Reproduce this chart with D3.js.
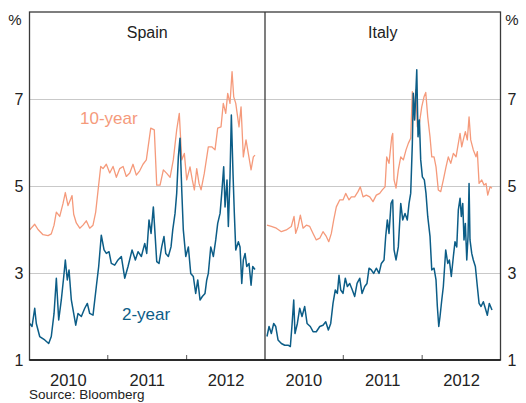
<!DOCTYPE html>
<html>
<head>
<meta charset="utf-8">
<script src="https://cdn.jsdelivr.net/npm/d3@7"></script>
<style>
  html, body { margin: 0; padding: 0; background: #fff; }
  svg { display: block; font-family: "Liberation Sans", Arial, sans-serif; }
</style>
</head>
<body>
<svg id="chart" width="526" height="403"></svg>
<script>
// ---- Data (decimal year, yield %) ----
const panels = ["Spain", "Italy"];
const yTicks = [1, 3, 5, 7];
const gridTicks = [3, 5, 7];
const yearBoundaries = [2011, 2012];
const yearLabels = [2010, 2011, 2012];
const seriesNames = ["10-year", "2-year"];

const spain10 = [
  [2010.016,3.99],[2010.080,4.12],[2010.122,4.0],[2010.185,3.88],[2010.249,3.86],[2010.290,3.9],
  [2010.325,4.1],[2010.354,4.4],[2010.397,4.3],[2010.439,4.6],[2010.468,4.85],[2010.502,4.55],
  [2010.536,4.7],[2010.553,4.78],[2010.574,4.35],[2010.607,4.15],[2010.651,4.03],[2010.692,4.1],
  [2010.734,4.2],[2010.777,4.03],[2010.819,4.1],[2010.853,4.4],[2010.883,4.9],[2010.917,5.45],
  [2010.946,5.4],[2010.988,5.5],[2011.031,5.3],[2011.073,5.45],[2011.115,5.2],[2011.158,5.4],
  [2011.200,5.45],[2011.241,5.22],[2011.285,5.3],[2011.326,5.5],[2011.368,5.25],[2011.411,5.35],
  [2011.453,5.5],[2011.495,5.6],[2011.551,6.33],[2011.596,6.29],[2011.627,5.02],[2011.669,5.02],
  [2011.711,5.37],[2011.754,5.29],[2011.796,5.2],[2011.837,5.6],[2011.880,6.29],[2011.913,6.67],
  [2011.944,5.6],[2011.977,5.75],[2012.007,5.14],[2012.049,5.44],[2012.078,5.14],[2012.104,4.91],
  [2012.134,5.4],[2012.163,5.06],[2012.189,4.91],[2012.230,5.29],[2012.281,5.9],[2012.324,5.9],
  [2012.366,5.83],[2012.400,6.33],[2012.442,6.36],[2012.471,6.9],[2012.502,6.67],[2012.527,7.13],
  [2012.556,6.9],[2012.582,7.63],[2012.603,7.05],[2012.629,6.9],[2012.670,6.36],[2012.696,6.82],
  [2012.725,5.67],[2012.759,6.06],[2012.788,5.75],[2012.823,5.37],[2012.852,5.67],[2012.873,5.71]
];
const spain2 = [
  [2010.016,1.84],[2010.046,1.77],[2010.080,2.19],[2010.100,1.84],[2010.143,1.54],[2010.207,1.46],
  [2010.257,1.38],[2010.290,1.54],[2010.325,2.07],[2010.354,2.88],[2010.384,1.92],[2010.417,2.38],
  [2010.448,2.92],[2010.468,3.3],[2010.493,2.84],[2010.515,3.07],[2010.544,2.38],[2010.574,2.07],
  [2010.600,1.8],[2010.629,2.07],[2010.671,2.0],[2010.714,2.19],[2010.747,2.3],[2010.777,2.07],
  [2010.819,2.03],[2010.861,2.69],[2010.891,3.15],[2010.924,3.87],[2010.959,3.53],[2010.988,3.45],
  [2011.022,3.49],[2011.051,3.22],[2011.094,3.18],[2011.136,3.3],[2011.178,3.38],[2011.221,2.88],
  [2011.263,3.15],[2011.314,3.53],[2011.356,3.3],[2011.390,3.49],[2011.432,3.38],[2011.475,3.68],
  [2011.500,3.45],[2011.529,4.22],[2011.555,3.91],[2011.584,4.52],[2011.605,3.91],[2011.627,3.26],
  [2011.656,3.22],[2011.690,3.6],[2011.719,3.84],[2011.741,3.45],[2011.774,3.38],[2011.808,3.6],
  [2011.830,3.99],[2011.859,4.37],[2011.880,4.83],[2011.901,5.67],[2011.922,6.1],[2011.944,4.91],
  [2011.964,3.99],[2011.995,3.38],[2012.028,3.6],[2012.058,2.99],[2012.091,2.92],[2012.121,2.53],
  [2012.147,2.84],[2012.176,2.38],[2012.205,2.46],[2012.239,2.53],[2012.261,2.84],[2012.281,2.99],
  [2012.312,3.6],[2012.345,3.38],[2012.375,3.76],[2012.400,4.14],[2012.430,4.37],[2012.451,4.83],
  [2012.476,5.44],[2012.493,4.52],[2012.518,5.14],[2012.535,4.07],[2012.556,5.21],[2012.573,6.63],
  [2012.594,5.29],[2012.611,4.37],[2012.629,3.53],[2012.662,3.72],[2012.683,3.6],[2012.705,2.76],
  [2012.725,3.3],[2012.747,3.45],[2012.768,3.15],[2012.797,3.22],[2012.823,2.72],[2012.844,3.15],
  [2012.873,3.08]
];
const italy10 = [
  [2010.039,4.1],[2010.094,4.07],[2010.157,4.03],[2010.221,3.95],[2010.284,3.99],[2010.347,4.07],
  [2010.382,4.3],[2010.403,3.91],[2010.432,4.07],[2010.462,4.33],[2010.496,4.03],[2010.538,4.1],
  [2010.581,4.07],[2010.623,3.91],[2010.664,3.76],[2010.708,3.8],[2010.749,3.95],[2010.791,3.84],
  [2010.822,3.72],[2010.855,3.91],[2010.885,4.22],[2010.918,4.52],[2010.961,4.68],[2011.003,4.68],
  [2011.037,4.83],[2011.079,4.68],[2011.108,4.75],[2011.151,4.75],[2011.193,4.87],[2011.222,4.98],
  [2011.257,4.75],[2011.298,4.79],[2011.342,4.75],[2011.383,4.64],[2011.425,4.79],[2011.468,4.83],
  [2011.501,4.91],[2011.536,4.98],[2011.557,5.67],[2011.586,5.52],[2011.621,6.13],[2011.633,6.21],
  [2011.650,5.14],[2011.675,4.95],[2011.704,5.37],[2011.735,5.67],[2011.768,5.6],[2011.802,5.83],
  [2011.831,5.98],[2011.861,6.1],[2011.882,7.17],[2011.903,6.52],[2011.925,7.21],[2011.945,6.36],
  [2011.971,6.44],[2012.001,6.82],[2012.030,7.05],[2012.052,7.15],[2012.077,6.59],[2012.106,6.13],
  [2012.128,5.67],[2012.157,5.67],[2012.182,5.44],[2012.211,4.91],[2012.242,4.87],[2012.275,5.14],
  [2012.309,5.44],[2012.338,5.67],[2012.369,5.52],[2012.402,5.75],[2012.436,5.67],[2012.465,5.98],
  [2012.487,6.21],[2012.508,5.9],[2012.528,6.06],[2012.554,6.25],[2012.579,6.06],[2012.601,6.59],
  [2012.622,6.06],[2012.655,5.83],[2012.689,5.67],[2012.706,5.79],[2012.728,5.06],[2012.762,5.14],
  [2012.791,5.02],[2012.816,5.06],[2012.838,4.79],[2012.867,4.98],[2012.892,4.95]
];
const italy2 = [
  [2010.039,1.54],[2010.065,1.77],[2010.094,1.61],[2010.124,1.84],[2010.150,1.77],[2010.179,1.46],
  [2010.221,1.38],[2010.264,1.34],[2010.306,1.34],[2010.335,1.31],[2010.356,1.8],[2010.378,2.38],
  [2010.394,1.61],[2010.424,1.84],[2010.454,2.19],[2010.483,2.0],[2010.517,2.23],[2010.547,1.84],
  [2010.588,1.77],[2010.623,1.65],[2010.664,1.65],[2010.708,1.77],[2010.749,1.8],[2010.784,1.88],
  [2010.817,1.69],[2010.847,1.84],[2010.876,2.3],[2010.905,2.61],[2010.931,2.53],[2010.952,2.95],
  [2010.974,2.61],[2011.003,2.53],[2011.032,2.88],[2011.058,2.69],[2011.088,2.76],[2011.121,2.61],
  [2011.151,2.46],[2011.181,2.76],[2011.215,2.88],[2011.244,2.53],[2011.278,2.69],[2011.307,2.76],
  [2011.333,3.11],[2011.362,3.07],[2011.392,2.99],[2011.425,3.11],[2011.460,2.99],[2011.489,3.22],
  [2011.523,3.3],[2011.544,3.84],[2011.565,4.22],[2011.586,3.91],[2011.612,4.6],[2011.633,4.68],
  [2011.650,3.53],[2011.675,3.3],[2011.704,3.6],[2011.735,4.6],[2011.760,4.22],[2011.789,4.37],
  [2011.818,4.22],[2011.840,4.6],[2011.861,4.83],[2011.882,5.98],[2011.894,7.13],[2011.912,6.52],
  [2011.938,7.67],[2011.954,6.13],[2011.971,6.52],[2011.988,5.6],[2012.009,5.21],[2012.034,5.14],
  [2012.055,4.83],[2012.077,4.3],[2012.106,3.84],[2012.128,3.07],[2012.157,3.11],[2012.182,2.84],
  [2012.199,2.23],[2012.217,1.77],[2012.233,2.0],[2012.255,2.38],[2012.275,2.69],[2012.305,3.53],
  [2012.331,3.22],[2012.351,3.3],[2012.376,2.92],[2012.402,3.38],[2012.423,3.72],[2012.445,3.6],
  [2012.465,4.45],[2012.487,4.72],[2012.503,4.3],[2012.521,4.6],[2012.537,3.76],[2012.554,4.14],
  [2012.572,3.3],[2012.588,3.84],[2012.601,5.06],[2012.613,3.76],[2012.635,3.45],[2012.655,3.3],
  [2012.681,3.15],[2012.706,2.69],[2012.728,2.3],[2012.753,2.23],[2012.782,2.34],[2012.807,2.19],
  [2012.833,2.03],[2012.858,2.3],[2012.892,2.15]
];

const panelData = { Spain: [spain10, spain2], Italy: [italy10, italy2] };

// ---- Layout ----
const svg = d3.select("#chart");
const plotTop = 12, plotBottom = 360;
const panelX = { Spain: [29.5, 265], Italy: [265, 500.5] };
const colors = { "10-year": "#f59a7b", "2-year": "#0c5d87" };
const xDomain = [2010.0137, 2012.9997];

const y = d3.scaleLinear().domain([1, 9]).range([plotBottom, plotTop]);

// gridlines across both panels
const grid = svg.append("g").attr("transform", "translate(29.5,0)")
  .call(d3.axisLeft(y).tickValues(gridTicks).tickSize(-(500.5 - 29.5)).tickFormat(""));
grid.select(".domain").remove();
grid.selectAll("line").attr("stroke", "#c9c9c9").attr("stroke-width", 1);

panels.forEach(p => {
  const [x0, x1] = panelX[p];
  const x = d3.scaleLinear().domain(xDomain).range([x0, x1]);

  // year boundary tick marks
  const tk = svg.append("g").attr("transform", `translate(0,${plotBottom})`)
    .call(d3.axisBottom(x).tickValues(yearBoundaries).tickSize(-5).tickFormat(""));
  tk.select(".domain").remove();
  tk.selectAll("line").attr("stroke", "#555").attr("stroke-width", 1);

  // year labels, centred in each year
  const xl = svg.append("g").attr("transform", `translate(0,${plotBottom})`)
    .call(d3.axisBottom(x).tickValues(yearLabels.map(v => v + 0.5)).tickSize(0).tickPadding(14)
      .tickFormat(v => String(Math.floor(v))));
  xl.select(".domain").remove();
  xl.selectAll("text").attr("font-size", 16.5).attr("fill", "#222")
    .attr("font-family", "'Liberation Sans', Arial, sans-serif");

  // lines
  const [s10, s2] = panelData[p];
  const line = d3.line().x(d => x(d[0])).y(d => y(d[1]));
  svg.append("path").datum(s10).attr("d", line).attr("fill", "none")
    .attr("stroke", colors["10-year"]).attr("stroke-width", 1.3).attr("stroke-linejoin", "round");
  svg.append("path").datum(s2).attr("d", line).attr("fill", "none")
    .attr("stroke", colors["2-year"]).attr("stroke-width", 1.5).attr("stroke-linejoin", "round");

  // panel title
  svg.append("text").attr("x", (x0 + x1) / 2).attr("y", 38).attr("text-anchor", "middle")
    .attr("font-size", 16).attr("fill", "#222").text(p);
});

// frame
svg.append("rect").attr("x", 29.5).attr("y", plotTop).attr("width", 500.5 - 29.5).attr("height", plotBottom - plotTop)
  .attr("fill", "none").attr("stroke", "#3a3a3a").attr("stroke-width", 1.3);
svg.append("line").attr("x1", 265).attr("x2", 265).attr("y1", plotTop).attr("y2", plotBottom)
  .attr("stroke", "#3a3a3a").attr("stroke-width", 1.3);
svg.append("line").attr("x1", 29.5).attr("x2", 500.5).attr("y1", plotBottom).attr("y2", plotBottom)
  .attr("stroke", "#111").attr("stroke-width", 1.5);

// y axes
const yLeft = svg.append("g").attr("transform", "translate(29.5,0)")
  .call(d3.axisLeft(y).tickValues(yTicks).tickSize(0).tickPadding(6));
yLeft.select(".domain").remove();
yLeft.selectAll("text").attr("font-size", 16).attr("fill", "#222")
  .attr("font-family", "'Liberation Sans', Arial, sans-serif");
const yRight = svg.append("g").attr("transform", "translate(500.5,0)")
  .call(d3.axisRight(y).tickValues(yTicks).tickSize(0).tickPadding(7));
yRight.select(".domain").remove();
yRight.selectAll("text").attr("font-size", 16).attr("fill", "#222")
  .attr("font-family", "'Liberation Sans', Arial, sans-serif");

// units
svg.append("text").attr("x", 15).attr("y", 25).attr("text-anchor", "middle").attr("font-size", 15).attr("fill", "#222").text("%");
svg.append("text").attr("x", 512).attr("y", 25).attr("text-anchor", "middle").attr("font-size", 15).attr("fill", "#222").text("%");

// series labels
svg.append("text").attr("x", 80).attr("y", 124).attr("font-size", 17).attr("fill", colors["10-year"]).text(seriesNames[0]);
svg.append("text").attr("x", 122).attr("y", 320).attr("font-size", 17).attr("fill", colors["2-year"]).text(seriesNames[1]);

// source
svg.append("text").attr("x", 29).attr("y", 399).attr("font-size", 13.5).attr("fill", "#222").text("Source: Bloomberg");
</script>
</body>
</html>
